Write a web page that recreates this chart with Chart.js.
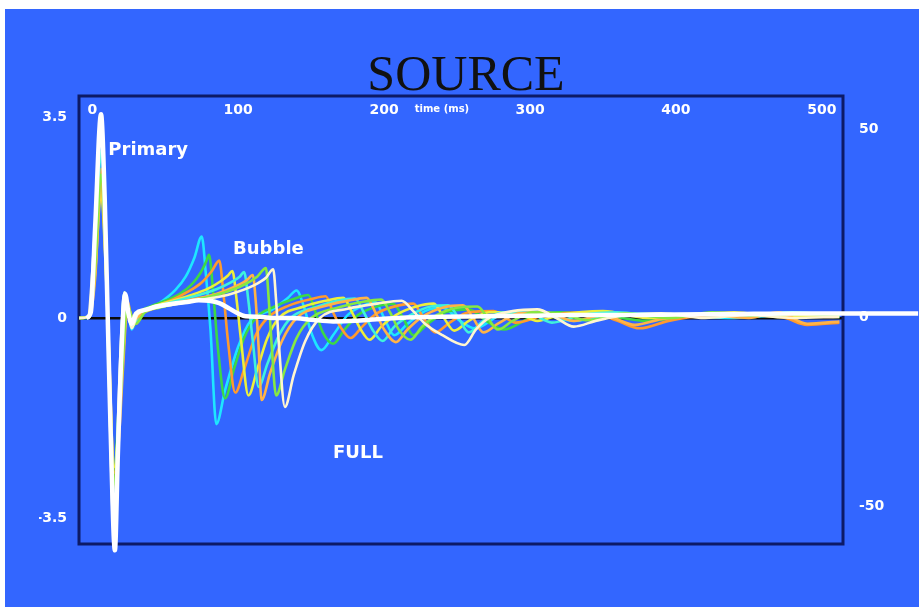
<!DOCTYPE html>
<html>
<head>
<meta charset="utf-8">
<title>SOURCE</title>
<script src="https://cdn.jsdelivr.net/npm/chart.js@4.4.1/dist/chart.umd.min.js"></script>
<style>
  html, body { margin: 0; padding: 0; background: #fff; }
  #fondo { position: absolute; left: 5px; top: 9px; width: 914px; height: 598px; background: #3366ff; }
  #grafica { position: absolute; left: 0; top: 0; }
</style>
</head>
<body>
<div id="fondo"></div>
<canvas id="grafica" width="919" height="607"></canvas>
<script>
// ===============================
// DATA  (time in ms, amplitude)
// ===============================
const xTicks = [0, 100, 200, 300, 400, 500];
const yTicks = [-3.5, 0, 3.5];
const y2Ticks = [-50, 0, 50];

// thick white trace ("FULL")
const full = [[-4,0],[-1,0.1],[2,1.6],[6,3.55],[8.5,2.1],[10.5,0.1],[12.5,-1.9],[15.5,-4.05],[17.5,-2.4],[19.5,-0.9],[22.5,0.42],[25,0.05],[27,-0.1],[30,0.08],[36,0.14],[44,0.2],[55,0.25],[65,0.28],[73,0.31],[80,0.3],[87,0.26],[93,0.18],[99,0.09],[105,0.03],[115,0.02],[125,0],[137,0],[150,-0.03],[165,-0.06],[180,-0.05],[195,-0.02],[210,0],[240,0.02],[270,0.03],[300,0.04],[330,0.05],[360,0.05],[400,0.06],[440,0.07],[480,0.08],[512,0.08],[566,0.08]];

// single-gun traces, earliest bubble first
const cyan = [[-9,0],[-3,0],[1,0.8],[6,3.1],[9,1.4],[11,-0.6],[15,-3.6],[18,-1.8],[20,-0.3],[22,0.45],[25,0.05],[27,-0.2],[31,0.05],[38,0.15],[46,0.26],[57,0.49],[64,0.72],[70,1.05],[75,1.42],[78,0.72],[81,-0.2],[85,-1.85],[91,-1.26],[100,-0.5],[109,-0.03],[123,0.14],[134,0.35],[140,0.48],[145,0.2],[150,-0.25],[157,-0.56],[165,-0.3],[175,0.05],[186,0.22],[194,0.28],[200,0],[207,-0.3],[216,-0.1],[228,0.12],[240,0.18],[252,-0.05],[262,-0.18],[280,0.05],[300,0.1],[330,-0.05],[360,0.08],[400,0.05],[440,0],[480,0.06],[512,0.03]];
const green = [[-9,0],[-2,0.02],[2,1.0],[6,2.3],[9,1.2],[11,-0.4],[15,-2.8],[18,-1.6],[21,-0.5],[23,0.3],[26,0],[28,-0.15],[32,0.08],[40,0.2],[50,0.3],[60,0.42],[68,0.58],[74,0.78],[78,0.98],[80,1.1],[83,0.4],[86,-0.5],[91,-1.4],[97,-0.9],[104,-0.35],[112,0],[125,0.2],[138,0.33],[148,0.4],[153,0.1],[158,-0.25],[165,-0.45],[173,-0.2],[182,0.05],[195,0.2],[206,0.25],[213,0],[220,-0.3],[230,-0.1],[242,0.1],[258,0.15],[270,-0.05],[282,-0.2],[300,0],[320,0.1],[350,0.05],[380,-0.05],[420,0.08],[460,0.05],[512,0.02]];
const orange = [[-9,0],[-2,0.02],[2,0.9],[6,2.6],[9,1.3],[11,-0.3],[15,-3.0],[18,-1.9],[21,-0.6],[24,0.3],[27,0],[30,-0.1],[35,0.1],[45,0.22],[55,0.32],[65,0.45],[75,0.62],[82,0.82],[87,1.0],[90,0.4],[93,-0.4],[98,-1.3],[104,-0.9],[112,-0.3],[120,0],[135,0.22],[150,0.33],[160,0.38],[165,0.1],[170,-0.15],[177,-0.35],[185,-0.15],[195,0.08],[210,0.22],[220,0.25],[227,0],[235,-0.25],[245,-0.08],[258,0.1],[275,0.12],[290,-0.08],[310,0.05],[340,0.1],[360,-0.05],[375,-0.18],[395,-0.05],[420,0.05],[450,0.08],[475,0],[490,-0.12],[512,-0.08]];
const yellow = [[-9,0],[-2,0.03],[2,0.8],[6,2.2],[9,1.0],[11,-0.3],[15,-2.6],[18,-1.9],[21,-0.7],[24,0.2],[28,0],[33,0.08],[42,0.2],[55,0.3],[68,0.4],[80,0.52],[88,0.64],[93,0.74],[96,0.82],[99,0.3],[102,-0.4],[107,-1.35],[113,-0.9],[120,-0.35],[128,0],[145,0.2],[160,0.3],[172,0.35],[178,0.1],[184,-0.2],[190,-0.38],[198,-0.15],[208,0.05],[222,0.2],[234,0.25],[241,0],[248,-0.22],[258,-0.05],[272,0.1],[290,0.1],[305,-0.05],[320,0.05],[350,0.12],[380,0],[410,0.06],[440,0.1],[470,0.02],[512,0.05]];
const aqua = [[-9,0],[-2,0.02],[2,1.1],[6,2.9],[9,1.5],[11,-0.5],[15,-3.3],[18,-1.7],[21,-0.4],[23,0.35],[26,0],[28,-0.12],[33,0.08],[42,0.18],[55,0.28],[70,0.38],[85,0.5],[95,0.62],[101,0.72],[104,0.8],[107,0.3],[110,-0.4],[114,-1.2],[120,-0.8],[128,-0.3],[136,0],[152,0.18],[168,0.3],[180,0.34],[186,0.1],[192,-0.2],[199,-0.4],[207,-0.15],[218,0.05],[232,0.2],[244,0.22],[251,0],[258,-0.25],[268,-0.05],[282,0.1],[300,0.08],[315,-0.08],[335,0.05],[360,0.1],[390,0.02],[420,0.08],[450,0.05],[480,0.1],[512,0.04]];
const amber = [[-9,0],[-2,0.02],[2,0.7],[6,2.4],[9,1.1],[11,-0.2],[15,-2.7],[18,-2.2],[21,-0.9],[24,0.15],[28,-0.05],[33,0.06],[42,0.16],[55,0.25],[70,0.33],[85,0.42],[98,0.55],[106,0.66],[110,0.75],[112,0.3],[114,-0.5],[116,-1.43],[122,-0.95],[130,-0.4],[140,0],[158,0.2],[175,0.3],[188,0.35],[194,0.1],[200,-0.2],[208,-0.42],[216,-0.2],[226,0.02],[240,0.18],[254,0.22],[261,0],[268,-0.25],[278,-0.1],[292,0.08],[310,0.1],[330,-0.05],[350,0.05],[372,-0.12],[390,-0.02],[420,0.05],[450,0],[470,0.1],[490,-0.1],[512,-0.06]];
const lime = [[-9,0],[-2,0.02],[2,0.9],[6,2.5],[9,1.2],[11,-0.3],[15,-2.9],[18,-2.0],[21,-0.7],[24,0.25],[27,0],[30,-0.1],[36,0.1],[46,0.18],[60,0.26],[75,0.34],[90,0.44],[104,0.58],[113,0.72],[119,0.87],[121,0.3],[123,-0.5],[126,-1.35],[132,-0.9],[140,-0.35],[150,0],[168,0.18],[185,0.28],[198,0.32],[204,0.1],[210,-0.2],[218,-0.38],[226,-0.15],[236,0.05],[250,0.18],[264,0.2],[271,0],[278,-0.2],[288,-0.05],[302,0.1],[320,0.08],[340,-0.04],[365,0.08],[395,0],[425,0.1],[455,0.04],[485,0.08],[512,0.03]];
const pale = [[-9,0],[-3,0.02],[1,1.2],[6,3.3],[9,1.6],[11,-0.6],[15,-3.8],[18,-1.5],[20,-0.2],[22,0.45],[25,0.05],[27,-0.18],[31,0.06],[38,0.14],[48,0.2],[62,0.26],[78,0.33],[95,0.42],[110,0.56],[119,0.7],[124,0.85],[126,0.3],[128,-0.5],[132,-1.55],[138,-1.0],[146,-0.4],[156,0],[175,0.16],[195,0.25],[212,0.3],[220,0.12],[228,-0.1],[240,-0.3],[255,-0.47],[263,-0.2],[272,0],[288,0.12],[305,0.15],[318,0],[330,-0.15],[345,-0.05],[365,0.05],[390,0.08],[420,0],[450,0.05],[480,0],[512,0.02]];

// ===============================
// DATASETS (first one is drawn on top)
// ===============================
const puntos = arr => arr.map(([x, y]) => ({ x, y }));

const trazas = [
  { datos: pale,   color: "#fff6d0" },
  { datos: lime,   color: "#86e842" },
  { datos: amber,  color: "#ffb347" },
  { datos: aqua,   color: "#3ff2dc" },
  { datos: yellow, color: "#ecef3c" },
  { datos: orange, color: "#ff9a2e" },
  { datos: green,  color: "#3cd846" },
  { datos: cyan,   color: "#1ee6ff" }
];

const datasets = [
  {
    data: puntos(full),
    borderColor: "#ffffff",
    borderWidth: 4.5,
    clip: false
  },
  ...trazas.map(t => ({
    data: puntos(t.datos),
    borderColor: t.color,
    borderWidth: 2.6,
    clip: false
  }))
];

// ===============================
// PLUGINS: frame + text notes
// ===============================
const marco = {
  id: "marco",
  beforeDatasetsDraw(chart) {
    const { ctx, chartArea: a } = chart;
    ctx.save();
    ctx.strokeStyle = "#0d1a66";
    ctx.lineWidth = 3;
    ctx.strokeRect(a.left, a.top, a.right - a.left, a.bottom - a.top);
    ctx.restore();
  }
};

const notas = [
  { texto: "Primary", t: 11, v: 2.92, size: 18 },
  { texto: "Bubble", t: 96.5, v: 1.2, size: 18 },
  { texto: "FULL", t: 165, v: -2.36, size: 18 },
  { texto: "time (ms)", t: 221, v: 3.63, size: 10 }
];

const textos = {
  id: "textos",
  afterDatasetsDraw(chart) {
    const { ctx, scales } = chart;
    ctx.save();
    ctx.fillStyle = "#ffffff";
    ctx.textAlign = "left";
    ctx.textBaseline = "middle";
    notas.forEach(n => {
      ctx.font = `bold ${n.size}px "DejaVu Sans"`;
      ctx.fillText(n.texto, scales.x.getPixelForValue(n.t), scales.y.getPixelForValue(n.v));
    });
    ctx.restore();
  }
};

// ===============================
// CHART
// ===============================
const fuenteTicks = { family: "DejaVu Sans", weight: "bold", size: 14 };

new Chart(document.getElementById("grafica"), {
  type: "line",
  data: { datasets },
  options: {
    responsive: false,
    animation: false,
    devicePixelRatio: 1,
    layout: { padding: { left: 39, right: 26, top: 52, bottom: 63 } },
    elements: {
      point: { radius: 0 },
      line: { cubicInterpolationMode: "monotone", fill: false }
    },
    plugins: {
      legend: { display: false },
      tooltip: { enabled: false },
      title: {
        display: true,
        text: "SOURCE",
        color: "#111111",
        font: { family: "Liberation Serif", size: 50, weight: "normal", lineHeight: 1 },
        padding: { top: 0, bottom: -6 }
      }
    },
    scales: {
      x: {
        type: "linear",
        position: "top",
        min: -9.1,
        max: 514.5,
        afterBuildTicks: s => { s.ticks = xTicks.map(v => ({ value: v })); },
        afterFit: s => { s.height = 0; },
        grid: { display: false, drawTicks: false },
        border: { display: false },
        ticks: { mirror: true, padding: 6, color: "#ffffff", font: fuenteTicks, autoSkip: false, maxRotation: 0, callback: v => String(v) }
      },
      y: {
        type: "linear",
        position: "left",
        min: -3.94,
        max: 3.87,
        afterBuildTicks: s => { s.ticks = yTicks.map(v => ({ value: v })); },
        afterFit: s => { s.width = 40; },
        grid: {
          drawTicks: false,
          lineWidth: 2.5,
          color: c => (c.tick && c.tick.value === 0 ? "#0a0a0a" : "rgba(0,0,0,0)")
        },
        border: { display: false },
        ticks: { padding: 12, color: "#ffffff", font: fuenteTicks, callback: v => String(v) }
      },
      y2: {
        type: "linear",
        position: "right",
        min: -60,
        max: 58.8,
        afterBuildTicks: s => { s.ticks = y2Ticks.map(v => ({ value: v })); },
        afterFit: s => { s.width = 50; },
        grid: { display: false, drawTicks: false },
        border: { display: false },
        ticks: { padding: 16, color: "#ffffff", font: fuenteTicks, callback: v => String(v) }
      }
    }
  },
  plugins: [marco, textos]
});
</script>
</body>
</html>
